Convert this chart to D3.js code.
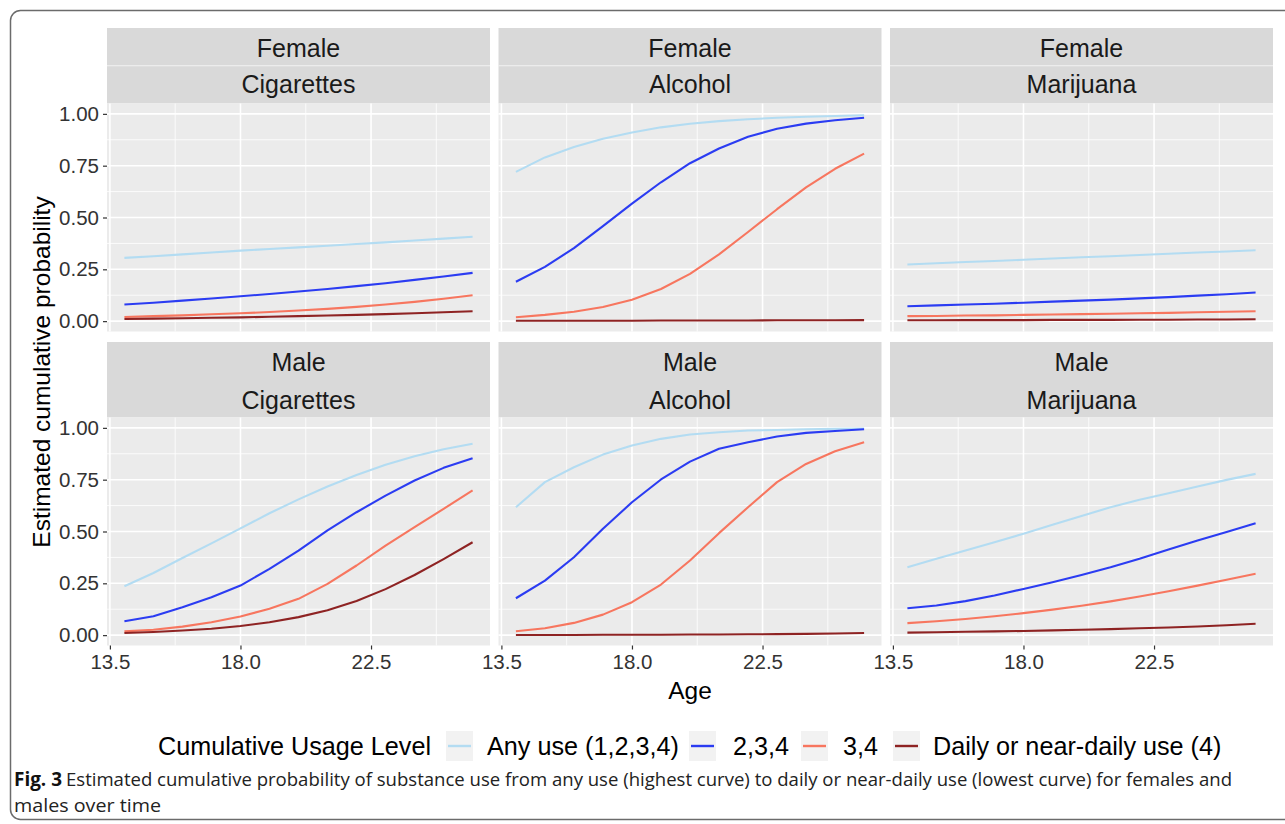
<!DOCTYPE html>
<html>
<head>
<meta charset="utf-8">
<script src="https://cdn.jsdelivr.net/npm/d3@7"></script>
<style>
  body { margin: 0; background: #fff; }
  svg { display: block; }
</style>
</head>
<body>
<svg id="chart" width="1285" height="824"></svg>
<script>
// ---- data ----
const ages = [14, 15, 16, 17, 18, 19, 20, 21, 22, 23, 24, 25, 26];
const sexes = ["Female", "Male"];
const substances = ["Cigarettes", "Alcohol", "Marijuana"];
const levels = ["Any use (1,2,3,4)", "2,3,4", "3,4", "Daily or near-daily use (4)"];
const xTicks = [13.5, 18.0, 22.5];
const yTicks = [0, 0.25, 0.5, 0.75, 1];

// each row: one usage level, values by age 14..26
const femaleCigarettes = [
  [0.305, 0.313, 0.322, 0.331, 0.340, 0.348, 0.356, 0.364, 0.372, 0.380, 0.389, 0.398, 0.407],
  [0.080, 0.089, 0.099, 0.109, 0.120, 0.131, 0.143, 0.155, 0.169, 0.183, 0.199, 0.215, 0.233],
  [0.020, 0.024, 0.028, 0.033, 0.038, 0.044, 0.051, 0.059, 0.069, 0.080, 0.093, 0.108, 0.125],
  [0.010, 0.012, 0.014, 0.016, 0.018, 0.021, 0.024, 0.027, 0.030, 0.034, 0.038, 0.043, 0.048]
];
const femaleAlcohol = [
  [0.720, 0.790, 0.840, 0.880, 0.910, 0.935, 0.952, 0.965, 0.974, 0.981, 0.986, 0.990, 0.993],
  [0.190, 0.262, 0.352, 0.458, 0.567, 0.670, 0.762, 0.833, 0.890, 0.928, 0.953, 0.969, 0.981],
  [0.019, 0.030, 0.045, 0.068, 0.103, 0.155, 0.228, 0.322, 0.430, 0.540, 0.645, 0.735, 0.808],
  [0.002, 0.002, 0.002, 0.002, 0.002, 0.003, 0.003, 0.003, 0.003, 0.004, 0.004, 0.004, 0.005]
];
const femaleMarijuana = [
  [0.273, 0.279, 0.285, 0.290, 0.296, 0.302, 0.308, 0.313, 0.319, 0.325, 0.331, 0.336, 0.342],
  [0.072, 0.076, 0.080, 0.084, 0.089, 0.094, 0.099, 0.104, 0.110, 0.116, 0.123, 0.130, 0.138],
  [0.024, 0.025, 0.027, 0.028, 0.030, 0.032, 0.034, 0.036, 0.038, 0.040, 0.043, 0.045, 0.048],
  [0.004, 0.004, 0.005, 0.005, 0.005, 0.006, 0.006, 0.006, 0.007, 0.007, 0.008, 0.008, 0.009]
];
const maleCigarettes = [
  [0.236, 0.300, 0.372, 0.443, 0.515, 0.588, 0.655, 0.717, 0.773, 0.822, 0.863, 0.897, 0.923],
  [0.067, 0.091, 0.135, 0.183, 0.239, 0.320, 0.408, 0.505, 0.593, 0.673, 0.746, 0.807, 0.853],
  [0.018, 0.026, 0.041, 0.062, 0.090, 0.127, 0.175, 0.247, 0.336, 0.432, 0.521, 0.609, 0.698],
  [0.010, 0.015, 0.022, 0.031, 0.044, 0.062, 0.087, 0.120, 0.165, 0.222, 0.290, 0.367, 0.448]
];
const maleAlcohol = [
  [0.617, 0.738, 0.810, 0.871, 0.915, 0.947, 0.968, 0.979, 0.987, 0.990, 0.993, 0.995, 0.997],
  [0.178, 0.263, 0.376, 0.513, 0.641, 0.751, 0.837, 0.899, 0.931, 0.958, 0.976, 0.985, 0.993],
  [0.019, 0.033, 0.059, 0.099, 0.159, 0.244, 0.360, 0.492, 0.617, 0.738, 0.826, 0.887, 0.931],
  [0.001, 0.001, 0.001, 0.002, 0.002, 0.002, 0.003, 0.003, 0.004, 0.005, 0.006, 0.008, 0.010]
];
const maleMarijuana = [
  [0.328, 0.368, 0.408, 0.448, 0.489, 0.532, 0.575, 0.617, 0.653, 0.685, 0.717, 0.749, 0.778],
  [0.130, 0.143, 0.164, 0.191, 0.223, 0.255, 0.290, 0.327, 0.368, 0.413, 0.456, 0.498, 0.540],
  [0.058, 0.067, 0.078, 0.091, 0.106, 0.123, 0.142, 0.163, 0.186, 0.212, 0.239, 0.267, 0.296],
  [0.012, 0.014, 0.016, 0.018, 0.020, 0.023, 0.026, 0.029, 0.033, 0.037, 0.042, 0.048, 0.055]
];

const panelData = [
  [femaleCigarettes, femaleAlcohol, femaleMarijuana],
  [maleCigarettes, maleAlcohol, maleMarijuana]
];

// ---- styling / layout ----
const levelColors = ["#b3dcf2", "#2b3cf2", "#f7765f", "#8e2323"];
const sansFont = "'Liberation Sans', Arial, Helvetica, sans-serif";
const panelLeft = [107, 498.5, 890];
const panelW = 383;
const stripTop = [28, 342];
const stripH = 75.5;
const panelH = 228;

const svg = d3.select("#chart");

// figure frame
svg.append("rect")
  .attr("x", 10.5).attr("y", 10.5)
  .attr("width", 1300).attr("height", 809)
  .attr("rx", 10).attr("ry", 10)
  .attr("fill", "none").attr("stroke", "#6b6b6b").attr("stroke-width", 1.5);

const x = d3.scaleLinear().domain([13.4, 26.6]).range([0, panelW]);
const y = d3.scaleLinear().domain([-0.05, 1.05]).range([panelH, 0]);
const xMinor = [15.75, 20.25, 24.75];
const yMinor = [0.125, 0.375, 0.625, 0.875];

const line = d3.line()
  .x((d, i) => x(ages[i]))
  .y(d => y(d));

sexes.forEach((sex, r) => {
  substances.forEach((sub, c) => {
    const g = svg.append("g")
      .attr("transform", `translate(${panelLeft[c]},${stripTop[r]})`);

    // strip
    g.append("rect")
      .attr("x", 0).attr("y", 0)
      .attr("width", panelW).attr("height", stripH)
      .attr("fill", "#d9d9d9");
    if (r === 0) {
      g.append("line")
        .attr("x1", 0).attr("x2", panelW)
        .attr("y1", stripH / 2).attr("y2", stripH / 2)
        .attr("stroke", "#f2f2f2").attr("stroke-width", 1.2);
    }
    g.append("text")
      .attr("x", panelW / 2).attr("y", stripH * 0.25 + 1)
      .attr("dy", "0.35em")
      .attr("text-anchor", "middle")
      .attr("font-family", sansFont).attr("font-size", 25)
      .attr("fill", "#1a1a1a")
      .text(sex);
    g.append("text")
      .attr("x", panelW / 2).attr("y", stripH * 0.75 + (r === 0 ? -0.5 : 1.5))
      .attr("dy", "0.35em")
      .attr("text-anchor", "middle")
      .attr("font-family", sansFont).attr("font-size", 25)
      .attr("fill", "#1a1a1a")
      .text(sub);

    // panel
    const p = g.append("g").attr("transform", `translate(0,${stripH})`);
    p.append("rect")
      .attr("width", panelW).attr("height", panelH)
      .attr("fill", "#ebebeb");

    p.selectAll(".ymin").data(yMinor).join("line")
      .attr("x1", 0).attr("x2", panelW)
      .attr("y1", d => y(d)).attr("y2", d => y(d))
      .attr("stroke", "#fff").attr("stroke-width", 0.8);
    p.selectAll(".xmin").data(xMinor).join("line")
      .attr("y1", 0).attr("y2", panelH)
      .attr("x1", d => x(d)).attr("x2", d => x(d))
      .attr("stroke", "#fff").attr("stroke-width", 0.8);
    p.selectAll(".ymaj").data(yTicks).join("line")
      .attr("x1", 0).attr("x2", panelW)
      .attr("y1", d => y(d)).attr("y2", d => y(d))
      .attr("stroke", "#fff").attr("stroke-width", 1.6);
    p.selectAll(".xmaj").data(xTicks).join("line")
      .attr("y1", 0).attr("y2", panelH)
      .attr("x1", d => x(d)).attr("x2", d => x(d))
      .attr("stroke", "#fff").attr("stroke-width", 1.6);

    // curves
    panelData[r][c].forEach((vals, k) => {
      p.append("path")
        .datum(vals)
        .attr("d", line)
        .attr("fill", "none")
        .attr("stroke", levelColors[k])
        .attr("stroke-width", 2.1)
        .attr("stroke-linejoin", "round");
    });

    // y axis on left column
    if (c === 0) {
      const ya = p.append("g")
        .call(d3.axisLeft(y).tickValues(yTicks).tickSize(4).tickPadding(4).tickFormat(d3.format(".2f")));
      ya.select(".domain").remove();
      ya.selectAll(".tick line").attr("stroke", "#333").attr("stroke-width", 1.2);
      ya.selectAll(".tick text")
        .attr("font-family", sansFont).attr("font-size", 20.5).attr("fill", "#333");
    }
    // x axis on bottom row
    if (r === 1) {
      const xa = p.append("g").attr("transform", `translate(0,${panelH})`)
        .call(d3.axisBottom(x).tickValues(xTicks).tickSize(4).tickPadding(5).tickFormat(d3.format(".1f")));
      xa.select(".domain").remove();
      xa.selectAll(".tick line").attr("stroke", "#333").attr("stroke-width", 1.2);
      xa.selectAll(".tick text")
        .attr("font-family", sansFont).attr("font-size", 20.5).attr("fill", "#333");
    }
  });
});

// axis titles
svg.append("text")
  .attr("transform", "translate(41,372) rotate(-90)")
  .attr("text-anchor", "middle").attr("dy", "0.35em")
  .attr("font-family", sansFont).attr("font-size", 24.5).attr("fill", "#000")
  .text("Estimated cumulative probability");
svg.append("text")
  .attr("x", 690).attr("y", 690).attr("dy", "0.35em")
  .attr("text-anchor", "middle")
  .attr("font-family", sansFont).attr("font-size", 24.5).attr("fill", "#000")
  .text("Age");

// legend
const legend = svg.append("g");
legend.append("text")
  .attr("x", 158).attr("y", 746).attr("dy", "0.35em")
  .attr("font-family", sansFont).attr("font-size", 25.2).attr("fill", "#000")
  .text("Cumulative Usage Level");
const keyX = [446, 689, 801, 893];
const labelX = [487, 733, 843, 933];
levels.forEach((lab, k) => {
  legend.append("rect")
    .attr("x", keyX[k]).attr("y", 731)
    .attr("width", 27).attr("height", 30)
    .attr("fill", "#f2f2f2");
  legend.append("line")
    .attr("x1", keyX[k] + 2).attr("x2", keyX[k] + 25)
    .attr("y1", 746).attr("y2", 746)
    .attr("stroke", levelColors[k]).attr("stroke-width", 2.4);
  legend.append("text")
    .attr("x", labelX[k]).attr("y", 746).attr("dy", "0.35em")
    .attr("font-family", sansFont).attr("font-size", 25.2).attr("fill", "#000")
    .text(lab);
});

// caption
const capFont = "'Open Sans', 'Noto Sans', sans-serif";
svg.append("text")
  .attr("x", 14).attr("y", 786)
  .attr("font-family", capFont).attr("font-size", 19).attr("font-weight", 700)
  .attr("textLength", 48).attr("lengthAdjust", "spacingAndGlyphs")
  .attr("fill", "#111")
  .text("Fig. 3");
svg.append("text")
  .attr("x", 66).attr("y", 786)
  .attr("font-family", capFont).attr("font-size", 19)
  .attr("textLength", 1166).attr("lengthAdjust", "spacingAndGlyphs")
  .attr("fill", "#222")
  .text("Estimated cumulative probability of substance use from any use (highest curve) to daily or near-daily use (lowest curve) for females and");
svg.append("text")
  .attr("x", 14).attr("y", 812)
  .attr("font-family", capFont).attr("font-size", 19)
  .attr("textLength", 147).attr("lengthAdjust", "spacingAndGlyphs")
  .attr("fill", "#222")
  .text("males over time");
</script>
</body>
</html>
